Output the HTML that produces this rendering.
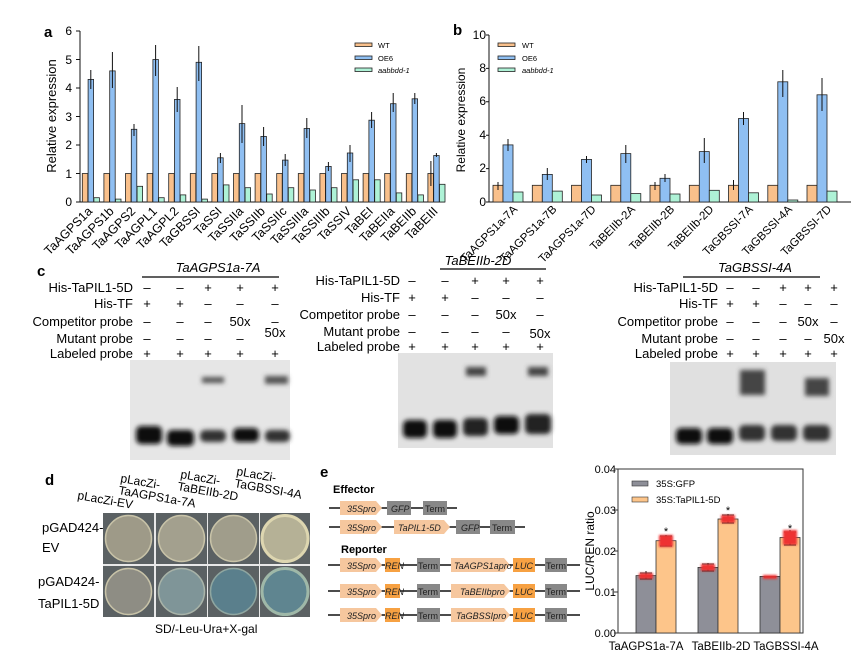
<!DOCTYPE html><html><head><meta charset="utf-8"><style>body{margin:0;background:#fff}svg{display:block;font-family:"Liberation Sans",Arial,sans-serif}</style></head><body>
<svg width="851" height="654" viewBox="0 0 851 654" xmlns="http://www.w3.org/2000/svg">
<defs>
<filter id="bl" x="-30%" y="-80%" width="160%" height="260%"><feGaussianBlur stdDeviation="2.5"/></filter>
<filter id="bl2"><feGaussianBlur stdDeviation="1"/></filter>
</defs>
<style>.w{fill:#f9c08b;stroke:#222;stroke-width:.8}.o{fill:#8fbff2;stroke:#222;stroke-width:.8}.k{fill:#aef2d6;stroke:#222;stroke-width:.8}.t{font-size:12px}.lbl{font-size:12.5px}.e{stroke:#111;stroke-width:1}</style>

<!-- Panel a -->
<text x="44" y="37" font-size="15" font-weight="bold">a</text>
<g class="t" text-anchor="end"><text x="72" y="206">0</text><text x="72" y="178">1</text><text x="72" y="149">2</text><text x="72" y="121">3</text><text x="72" y="92">4</text><text x="72" y="64">5</text><text x="72" y="35">6</text></g>
<path d="M80 31V202H445M76 31H80M76 59.5H80M76 88H80M76 116.5H80M76 145H80M76 173.5H80M76 202H80" stroke="#111" fill="none"/>
<text transform="translate(56,116) rotate(-90)" text-anchor="middle" font-size="13">Relative expression</text>
<g>
<g transform="translate(82.3,0)"><rect class="w" x="0" y="173.5" width="5.5" height="28.5"/><rect class="o" x="5.8" y="79.4" width="5.5" height="122.6"/><rect class="k" x="11.6" y="197.7" width="5.5" height="4.3"/><path class="e" d="M8.5 70V89"/></g>
<g transform="translate(103.9,0)"><rect class="w" x="0" y="173.5" width="5.5" height="28.5"/><rect class="o" x="5.8" y="70.9" width="5.5" height="131.1"/><rect class="k" x="11.6" y="199.1" width="5.5" height="2.9"/><path class="e" d="M8.5 52V88"/></g>
<g transform="translate(125.5,0)"><rect class="w" x="0" y="173.5" width="5.5" height="28.5"/><rect class="o" x="5.8" y="129.3" width="5.5" height="72.7"/><rect class="k" x="11.6" y="186.3" width="5.5" height="15.7"/><path class="e" d="M8.5 124V136"/></g>
<g transform="translate(147.1,0)"><rect class="w" x="0" y="173.5" width="5.5" height="28.5"/><rect class="o" x="5.8" y="59.5" width="5.5" height="142.5"/><rect class="k" x="11.6" y="197.7" width="5.5" height="4.3"/><path class="e" d="M8.5 45V76"/></g>
<g transform="translate(168.7,0)"><rect class="w" x="0" y="173.5" width="5.5" height="28.5"/><rect class="o" x="5.8" y="99.4" width="5.5" height="102.6"/><rect class="k" x="11.6" y="194.9" width="5.5" height="7.1"/><path class="e" d="M8.5 87V112"/></g>
<g transform="translate(190.3,0)"><rect class="w" x="0" y="173.5" width="5.5" height="28.5"/><rect class="o" x="5.8" y="62.3" width="5.5" height="139.7"/><rect class="k" x="11.6" y="199.1" width="5.5" height="2.9"/><path class="e" d="M8.5 46V81"/></g>
<g transform="translate(211.9,0)"><rect class="w" x="0" y="173.5" width="5.5" height="28.5"/><rect class="o" x="5.8" y="157.8" width="5.5" height="44.2"/><rect class="k" x="11.6" y="184.9" width="5.5" height="17.1"/><path class="e" d="M8.5 153V163"/></g>
<g transform="translate(233.5,0)"><rect class="w" x="0" y="173.5" width="5.5" height="28.5"/><rect class="o" x="5.8" y="123.6" width="5.5" height="78.4"/><rect class="k" x="11.6" y="187.7" width="5.5" height="14.3"/><path class="e" d="M8.5 105V143"/></g>
<g transform="translate(255.1,0)"><rect class="w" x="0" y="173.5" width="5.5" height="28.5"/><rect class="o" x="5.8" y="136.4" width="5.5" height="65.6"/><rect class="k" x="11.6" y="194" width="5.5" height="8"/><path class="e" d="M8.5 127V146"/></g>
<g transform="translate(276.7,0)"><rect class="w" x="0" y="173.5" width="5.5" height="28.5"/><rect class="o" x="5.8" y="160.1" width="5.5" height="41.9"/><rect class="k" x="11.6" y="187.7" width="5.5" height="14.3"/><path class="e" d="M8.5 154V166"/></g>
<g transform="translate(298.3,0)"><rect class="w" x="0" y="173.5" width="5.5" height="28.5"/><rect class="o" x="5.8" y="128.5" width="5.5" height="73.5"/><rect class="k" x="11.6" y="190" width="5.5" height="12"/><path class="e" d="M8.5 118V138"/></g>
<g transform="translate(319.9,0)"><rect class="w" x="0" y="173.5" width="5.5" height="28.5"/><rect class="o" x="5.8" y="166.4" width="5.5" height="35.6"/><rect class="k" x="11.6" y="187.7" width="5.5" height="14.3"/><path class="e" d="M8.5 162V171"/></g>
<g transform="translate(341.5,0)"><rect class="w" x="0" y="173.5" width="5.5" height="28.5"/><rect class="o" x="5.8" y="153" width="5.5" height="49"/><rect class="k" x="11.6" y="179.8" width="5.5" height="22.2"/><path class="e" d="M8.5 145V162"/></g>
<g transform="translate(363.1,0)"><rect class="w" x="0" y="173.5" width="5.5" height="28.5"/><rect class="o" x="5.8" y="120.2" width="5.5" height="81.8"/><rect class="k" x="11.6" y="179.8" width="5.5" height="22.2"/><path class="e" d="M8.5 112V128"/></g>
<g transform="translate(384.7,0)"><rect class="w" x="0" y="173.5" width="5.5" height="28.5"/><rect class="o" x="5.8" y="103.7" width="5.5" height="98.3"/><rect class="k" x="11.6" y="192.9" width="5.5" height="9.1"/><path class="e" d="M8.5 93V112"/></g>
<g transform="translate(406.3,0)"><rect class="w" x="0" y="173.5" width="5.5" height="28.5"/><rect class="o" x="5.8" y="98.8" width="5.5" height="103.2"/><rect class="k" x="11.6" y="194.9" width="5.5" height="7.1"/><path class="e" d="M8.5 93V104"/></g>
<g transform="translate(427.9,0)"><rect class="w" x="0" y="173.5" width="5.5" height="28.5"/><rect class="o" x="5.8" y="155.5" width="5.5" height="46.5"/><rect class="k" x="11.6" y="184.3" width="5.5" height="17.7"/><path class="e" d="M3 161V186M8.5 153V157"/></g>
</g>
<g class="lbl" text-anchor="end">
<text transform="translate(93,212) rotate(-45)">TaAGPS1a</text>
<text transform="translate(114.6,212) rotate(-45)">TaAGPS1b</text>
<text transform="translate(136.2,212) rotate(-45)">TaAGPS2</text>
<text transform="translate(157.8,212) rotate(-45)">TaAGPL1</text>
<text transform="translate(179.4,212) rotate(-45)">TaAGPL2</text>
<text transform="translate(201,212) rotate(-45)">TaGBSSI</text>
<text transform="translate(222.6,212) rotate(-45)">TaSSI</text>
<text transform="translate(244.2,212) rotate(-45)">TaSSIIa</text>
<text transform="translate(265.8,212) rotate(-45)">TaSSIIb</text>
<text transform="translate(287.4,212) rotate(-45)">TaSSIIc</text>
<text transform="translate(309,212) rotate(-45)">TaSSIIIa</text>
<text transform="translate(330.6,212) rotate(-45)">TaSSIIIb</text>
<text transform="translate(352.2,212) rotate(-45)">TaSSIV</text>
<text transform="translate(373.8,212) rotate(-45)">TaBEI</text>
<text transform="translate(395.4,212) rotate(-45)">TaBEIIa</text>
<text transform="translate(417,212) rotate(-45)">TaBEIIb</text>
<text transform="translate(438.6,212) rotate(-45)">TaBEIII</text>
</g>
<g font-size="7.5"><rect class="w" x="355" y="43" width="17" height="3.5"/><text x="378" y="48">WT</text><rect class="o" x="355" y="56" width="17" height="3.5"/><text x="378" y="61">OE6</text><rect class="k" x="355" y="68" width="17" height="3.5"/><text x="378" y="73" font-style="italic">aabbdd-1</text></g>

<!-- Panel b -->
<text x="453" y="35" font-size="15" font-weight="bold">b</text>
<g class="t" text-anchor="end"><text x="486" y="206">0</text><text x="486" y="172">2</text><text x="486" y="139">4</text><text x="486" y="105">6</text><text x="486" y="72">8</text><text x="486" y="39">10</text></g>
<path d="M489 35V202H851M486 35H489M486 68.4H489M486 101.8H489M486 135.2H489M486 168.6H489M486 202H489" stroke="#111" fill="none"/>
<text transform="translate(465,120) rotate(-90)" text-anchor="middle" font-size="12">Relative expression</text>
<g>
<g transform="translate(493,0)"><rect class="w" x="0" y="185.3" width="10" height="16.7"/><rect class="o" x="10" y="144.9" width="10" height="57.1"/><rect class="k" x="20" y="192" width="10" height="10"/><path class="e" d="M15 139V151M5 182V190"/></g>
<g transform="translate(532.3,0)"><rect class="w" x="0" y="185.3" width="10" height="16.7"/><rect class="o" x="10" y="174.4" width="10" height="27.6"/><rect class="k" x="20" y="191.1" width="10" height="10.9"/><path class="e" d="M15 168V180"/></g>
<g transform="translate(571.5,0)"><rect class="w" x="0" y="185.3" width="10" height="16.7"/><rect class="o" x="10" y="159.4" width="10" height="42.6"/><rect class="k" x="20" y="195" width="10" height="7"/><path class="e" d="M15 156V163"/></g>
<g transform="translate(610.8,0)"><rect class="w" x="0" y="185.3" width="10" height="16.7"/><rect class="o" x="10" y="153.6" width="10" height="48.4"/><rect class="k" x="20" y="193.6" width="10" height="8.4"/><path class="e" d="M15 145V163"/></g>
<g transform="translate(650,0)"><rect class="w" x="0" y="185.3" width="10" height="16.7"/><rect class="o" x="10" y="178.3" width="10" height="23.7"/><rect class="k" x="20" y="194" width="10" height="8"/><path class="e" d="M15 174V182M5 182V190"/></g>
<g transform="translate(689.3,0)"><rect class="w" x="0" y="185.3" width="10" height="16.7"/><rect class="o" x="10" y="151.6" width="10" height="50.4"/><rect class="k" x="20" y="190.3" width="10" height="11.7"/><path class="e" d="M15 138V163"/></g>
<g transform="translate(728.5,0)"><rect class="w" x="0" y="185.3" width="10" height="16.7"/><rect class="o" x="10" y="118.5" width="10" height="83.5"/><rect class="k" x="20" y="192.8" width="10" height="9.2"/><path class="e" d="M15 112V125M5 180V190"/></g>
<g transform="translate(767.8,0)"><rect class="w" x="0" y="185.3" width="10" height="16.7"/><rect class="o" x="10" y="81.8" width="10" height="120.2"/><rect class="k" x="20" y="200" width="10" height="2"/><path class="e" d="M15 70V97"/></g>
<g transform="translate(807,0)"><rect class="w" x="0" y="185.3" width="10" height="16.7"/><rect class="o" x="10" y="94.8" width="10" height="107.2"/><rect class="k" x="20" y="191.1" width="10" height="10.9"/><path class="e" d="M15 78V111"/></g>
</g>
<g font-size="11.5" text-anchor="end">
<text transform="translate(518,210) rotate(-45)">TaAGPS1a-7A</text>
<text transform="translate(557.3,210) rotate(-45)">TaAGPS1a-7B</text>
<text transform="translate(596.5,210) rotate(-45)">TaAGPS1a-7D</text>
<text transform="translate(635.8,210) rotate(-45)">TaBEIIb-2A</text>
<text transform="translate(675,210) rotate(-45)">TaBEIIb-2B</text>
<text transform="translate(714.3,210) rotate(-45)">TaBEIIb-2D</text>
<text transform="translate(753.5,210) rotate(-45)">TaGBSSI-7A</text>
<text transform="translate(792.8,210) rotate(-45)">TaGBSSI-4A</text>
<text transform="translate(832,210) rotate(-45)">TaGBSSI-7D</text>
</g>
<g font-size="7.5"><rect class="w" x="498" y="43" width="17" height="3.5"/><text x="522" y="48">WT</text><rect class="o" x="498" y="56" width="17" height="3.5"/><text x="522" y="61">OE6</text><rect class="k" x="498" y="68" width="17" height="3.5"/><text x="522" y="73" font-style="italic">aabbdd-1</text></g>

<!-- Panel c -->
<text x="37" y="276" font-size="15" font-weight="bold">c</text>
<g font-size="13">
<text x="218" y="272" text-anchor="middle" font-style="italic">TaAGPS1a-7A</text><path d="M142 277H279" stroke="#000" stroke-width="1.3"/>
<g text-anchor="end"><text x="133" y="292">His-TaPIL1-5D</text><text x="133" y="308">His-TF</text><text x="133" y="326">Competitor probe</text><text x="133" y="343">Mutant probe</text><text x="133" y="358">Labeled probe</text></g>
<g text-anchor="middle"><text x="147" y="292">–</text><text x="180" y="292">–</text><text x="208" y="292">+</text><text x="240" y="292">+</text><text x="275" y="292">+</text>
<text x="147" y="308">+</text><text x="180" y="308">+</text><text x="208" y="308">–</text><text x="240" y="308">–</text><text x="275" y="308">–</text>
<text x="147" y="326">–</text><text x="180" y="326">–</text><text x="208" y="326">–</text><text x="240" y="326">50x</text><text x="275" y="326">–</text>
<text x="147" y="343">–</text><text x="180" y="343">–</text><text x="208" y="343">–</text><text x="240" y="343">–</text><text x="275" y="337">50x</text>
<text x="147" y="358">+</text><text x="180" y="358">+</text><text x="208" y="358">+</text><text x="240" y="358">+</text><text x="275" y="358">+</text></g>

<text x="478" y="265" text-anchor="middle" font-style="italic">TaBEIIb-2D</text><path d="M440 269H546" stroke="#000" stroke-width="1.3"/>
<g text-anchor="end"><text x="400" y="285">His-TaPIL1-5D</text><text x="400" y="302">His-TF</text><text x="400" y="319">Competitor probe</text><text x="400" y="336">Mutant probe</text><text x="400" y="351">Labeled probe</text></g>
<g text-anchor="middle"><text x="412" y="285">–</text><text x="445" y="285">–</text><text x="475" y="285">+</text><text x="506" y="285">+</text><text x="540" y="285">+</text>
<text x="412" y="302">+</text><text x="445" y="302">+</text><text x="475" y="302">–</text><text x="506" y="302">–</text><text x="540" y="302">–</text>
<text x="412" y="319">–</text><text x="445" y="319">–</text><text x="475" y="319">–</text><text x="506" y="319">50x</text><text x="540" y="319">–</text>
<text x="412" y="336">–</text><text x="445" y="336">–</text><text x="475" y="336">–</text><text x="506" y="336">–</text><text x="540" y="338">50x</text>
<text x="412" y="351">+</text><text x="445" y="351">+</text><text x="475" y="351">+</text><text x="506" y="351">+</text><text x="540" y="351">+</text></g>

<text x="755" y="272" text-anchor="middle" font-style="italic">TaGBSSI-4A</text><path d="M683 277H820" stroke="#000" stroke-width="1.3"/>
<g text-anchor="end"><text x="718" y="292">His-TaPIL1-5D</text><text x="718" y="308">His-TF</text><text x="718" y="326">Competitor probe</text><text x="718" y="343">Mutant probe</text><text x="718" y="358">Labeled probe</text></g>
<g text-anchor="middle"><text x="730" y="292">–</text><text x="756" y="292">–</text><text x="783" y="292">+</text><text x="808" y="292">+</text><text x="834" y="292">+</text>
<text x="730" y="308">+</text><text x="756" y="308">+</text><text x="783" y="308">–</text><text x="808" y="308">–</text><text x="834" y="308">–</text>
<text x="730" y="326">–</text><text x="756" y="326">–</text><text x="783" y="326">–</text><text x="808" y="326">50x</text><text x="834" y="326">–</text>
<text x="730" y="343">–</text><text x="756" y="343">–</text><text x="783" y="343">–</text><text x="808" y="343">–</text><text x="834" y="343">50x</text>
<text x="730" y="358">+</text><text x="756" y="358">+</text><text x="783" y="358">+</text><text x="808" y="358">+</text><text x="834" y="358">+</text></g>
</g>
<!-- gels -->
<rect x="130" y="360" width="160" height="100" fill="#e6e6e6"/>
<g fill="#111" filter="url(#bl)"><rect x="136" y="426" width="26" height="18" rx="5"/><rect x="167" y="430" width="27" height="16" rx="5"/><rect x="200" y="430" width="26" height="12" rx="5" fill="#333"/><rect x="233" y="428" width="26" height="14" rx="5"/><rect x="265" y="430" width="25" height="12" rx="5" fill="#333"/><rect x="202" y="377" width="22" height="6" fill="#555"/><rect x="265" y="376" width="23" height="8" fill="#555"/></g>
<rect x="398" y="353" width="155" height="95" fill="#e2e2e2"/>
<g fill="#111" filter="url(#bl)"><rect x="403" y="420" width="24" height="18" rx="5"/><rect x="433" y="420" width="24" height="18" rx="5"/><rect x="463" y="418" width="25" height="18" rx="5" fill="#222"/><rect x="494" y="416" width="25" height="18" rx="5"/><rect x="525" y="414" width="26" height="20" rx="5" fill="#222"/><rect x="466" y="367" width="20" height="9" fill="#444"/><rect x="528" y="367" width="20" height="9" fill="#444"/></g>
<rect x="670" y="362" width="166" height="93" fill="#e0e0e0"/>
<g fill="#111" filter="url(#bl)"><rect x="676" y="428" width="26" height="16" rx="5"/><rect x="707" y="428" width="26" height="16" rx="5"/><rect x="739" y="425" width="26" height="16" rx="5" fill="#333"/><rect x="771" y="425" width="26" height="16" rx="5" fill="#333"/><rect x="803" y="425" width="27" height="16" rx="5" fill="#333"/><rect x="740" y="370" width="25" height="25" fill="#444"/><rect x="805" y="378" width="24" height="18" fill="#444"/></g>

<!-- Panel d -->
<text x="45" y="485" font-size="15" font-weight="bold">d</text>
<g font-size="12">
<text transform="translate(77,499) rotate(10)">pLacZi-EV</text>
<text transform="translate(120,482) rotate(10)">pLacZi-</text><text transform="translate(118,494) rotate(10)">TaAGPS1a-7A</text>
<text transform="translate(180,478) rotate(10)">pLacZi-</text><text transform="translate(177,490) rotate(10)">TaBEIIb-2D</text>
<text transform="translate(236,475) rotate(10)">pLacZi-</text><text transform="translate(234,487) rotate(10)">TaGBSSI-4A</text>
<text x="42" y="532" font-size="13">pGAD424-</text><text x="42" y="552" font-size="13">EV</text>
<text x="38" y="586" font-size="13">pGAD424-</text><text x="38" y="608" font-size="13">TaPIL1-5D</text>
<text x="155" y="633" font-size="12">SD/-Leu-Ura+X-gal</text>
</g>
<rect x="103" y="513" width="207" height="104" fill="#e8e8e8"/>
<g fill="#5b6163"><rect x="103" y="513" width="51" height="51"/><rect x="156" y="513" width="51" height="51"/><rect x="208" y="513" width="51" height="51"/><rect x="260" y="513" width="50" height="51"/><rect x="103" y="566" width="51" height="51"/><rect x="156" y="566" width="51" height="51"/><rect x="208" y="566" width="51" height="51"/><rect x="260" y="566" width="50" height="51"/></g>
<g stroke="#c8c3a8" stroke-width="1.5"><circle cx="128.5" cy="538.5" r="23" fill="#9e9a88"/><circle cx="181.5" cy="538.5" r="23" fill="#a3a08e"/><circle cx="233.5" cy="538.5" r="23" fill="#a09d8b"/><circle cx="285" cy="538.5" r="23" fill="#b5b196" stroke="#ddd6b0" stroke-width="3"/>
<circle cx="128.5" cy="591.5" r="23" fill="#8e8d84"/><circle cx="181.5" cy="591.5" r="23" fill="#7f9598" stroke="#a8b3a8"/><circle cx="233.5" cy="591.5" r="23" fill="#5a7f8c" stroke="#8fa6a0"/><circle cx="285" cy="591.5" r="23" fill="#5f8590" stroke="#9fb8a8" stroke-width="3"/></g>

<!-- Panel e -->
<text x="320" y="477" font-size="15" font-weight="bold">e</text>
<text x="333" y="493" font-size="11" font-weight="bold">Effector</text>
<text x="341" y="553" font-size="11" font-weight="bold">Reporter</text>
<g stroke="#111" stroke-width="1.5"><path d="M329 508H457M329 527H525M328 565H580M328 591H580M328 615H580"/></g>
<g font-size="9" font-style="italic" fill="#222">
<path d="M340 501H376L382 508L376 515H340Z" fill="#f6c79e"/><text x="347" y="512">35Spro</text>
<rect x="387" y="501" width="24" height="14" fill="#888"/><text x="391" y="512">GFP</text>
<rect x="423" y="501" width="24" height="14" fill="#888"/><text x="425" y="512" font-style="normal">Term</text>
<path d="M340 520H376L382 527L376 534H340Z" fill="#f6c79e"/><text x="347" y="531">35Spro</text>
<path d="M394 520H444L450 527L444 534H394Z" fill="#f6c79e"/><text x="398" y="531">TaPIL1-5D</text>
<rect x="456" y="520" width="24" height="14" fill="#888"/><text x="461" y="531">GFP</text>
<rect x="490" y="520" width="25" height="14" fill="#888"/><text x="492" y="531" font-style="normal">Term</text>
<g id="r1"><path d="M340 558H376L382 565L376 572H340Z" fill="#f6c79e"/><text x="347" y="569">35Spro</text><rect x="385" y="558" width="15" height="14" fill="#f7a142"/><text x="385" y="569">REN</text><rect x="417" y="558" width="23" height="14" fill="#888"/><text x="418" y="569" font-style="normal">Term</text><rect x="513" y="558" width="22" height="14" fill="#f7a142"/><text x="515" y="569">LUC</text><rect x="545" y="558" width="22" height="14" fill="#888"/><text x="546" y="569" font-style="normal">Term</text></g>
<path d="M451 558H504L510 565L504 572H451Z" fill="#f6c79e"/><text x="454" y="569">TaAGPS1apro</text>
<use href="#r1" y="26"/><path d="M451 584H504L510 591L504 598H451Z" fill="#f6c79e"/><text x="460" y="595">TaBEIIbpro</text>
<use href="#r1" y="50"/><path d="M451 608H504L510 615L504 622H451Z" fill="#f6c79e"/><text x="456" y="619">TaGBSSIpro</text>
</g>
<!-- e bar chart -->
<g font-size="11" text-anchor="end"><text x="616" y="473">0.04</text><text x="616" y="514">0.03</text><text x="616" y="555">0.02</text><text x="616" y="596">0.01</text><text x="616" y="637">0.00</text></g>
<path d="M618 469V633H803V469H618M614 469H618M614 510H618M614 551H618M614 592H618M614 633H618" stroke="#333" fill="none"/>
<text transform="translate(594,551) rotate(-90)" text-anchor="middle" font-size="12">LUC/REN ratio</text>
<g stroke="#333" stroke-width=".8"><rect x="636" y="575.6" width="20" height="57.4" fill="#8e8f98"/><rect x="656" y="540.7" width="20" height="92.3" fill="#fdc58a"/><rect x="698" y="567.4" width="20" height="65.6" fill="#8e8f98"/><rect x="718" y="519" width="20" height="114" fill="#fdc58a"/><rect x="760" y="576.4" width="20" height="56.6" fill="#8e8f98"/><rect x="780" y="537.5" width="20" height="95.5" fill="#fdc58a"/></g>
<g stroke="#111"><path d="M640 573H652M646 571V579M640 579H652"/><path d="M660 536H672M666 535V546M660 546H672"/><path d="M702 564H714M708 563V571M702 571H714"/><path d="M722 515H734M728 514V523M722 523H734"/><path d="M764 577H776M784 532H796M790 530V545M784 545H796"/></g>
<g fill="#e33" filter="url(#bl2)"><rect x="639" y="573" width="14" height="6"/><rect x="659" y="535" width="14" height="12"/><rect x="701" y="564" width="14" height="7"/><rect x="721" y="515" width="14" height="8"/><rect x="763" y="575" width="14" height="4"/><rect x="783" y="530" width="14" height="15"/></g>
<g font-size="11" text-anchor="middle"><text x="666" y="535">*</text><text x="728" y="514">*</text><text x="790" y="532">*</text></g>
<rect x="632" y="481" width="16" height="5" fill="#8e8f98" stroke="#333" stroke-width=".6"/><text x="656" y="487" font-size="9.5">35S:GFP</text>
<rect x="632" y="497" width="16" height="5" fill="#fdc58a" stroke="#333" stroke-width=".6"/><text x="656" y="503" font-size="9.5">35S:TaPIL1-5D</text>
<g font-size="11.5" text-anchor="middle"><text x="646" y="650">TaAGPS1a-7A</text><text x="721" y="650">TaBEIIb-2D</text><text x="786" y="650">TaGBSSI-4A</text></g>
</svg>
</body></html>
